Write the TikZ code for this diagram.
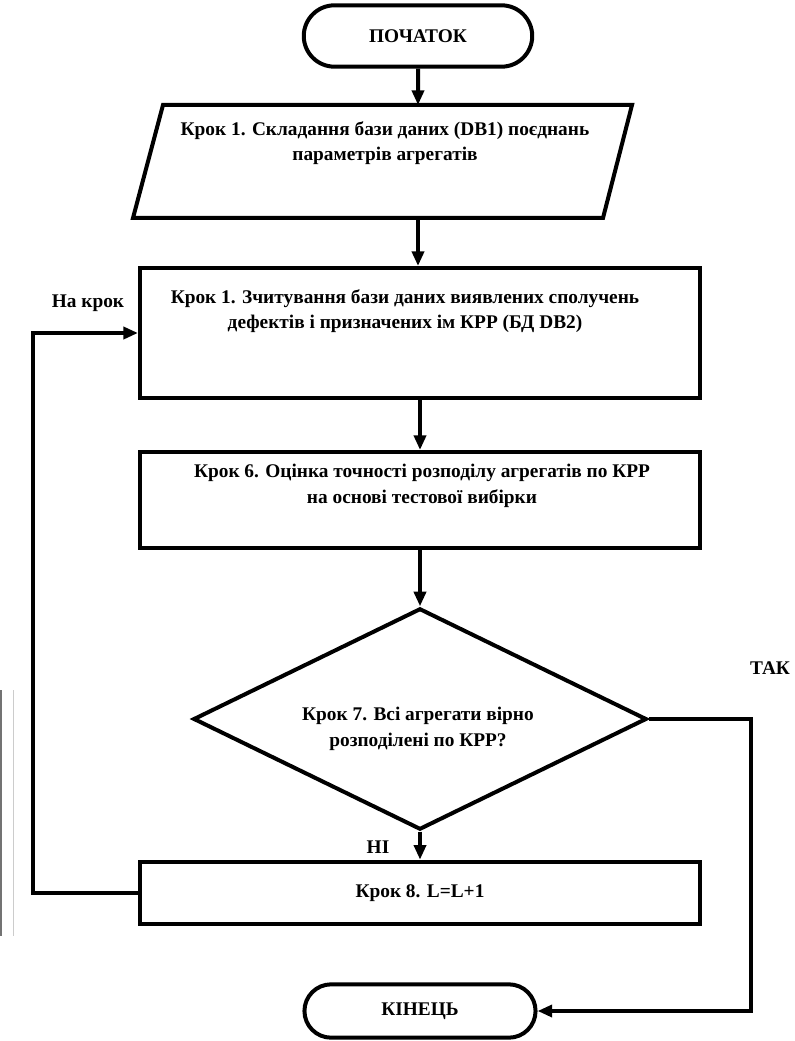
\documentclass[tikz,border=0pt]{standalone}
\usepackage{fontspec}
\setmainfont{Liberation Serif}
\usetikzlibrary{arrows.meta,shapes.geometric,shapes.misc}

\tikzset{
	line/.style={line width=3pt},
	flow/.style={line, -{Triangle[length=11pt,width=9pt]}},
	term/.style={rounded rectangle, draw, line width=3pt, minimum width=178pt, minimum height=46pt, font=\bfseries\fontsize{14.5}{17}\selectfont},
	stepbox/.style={rectangle, draw, line width=3pt, minimum width=420pt},
	txt/.style={align=center, inner sep=0pt, font=\bfseries\fontsize{14.5}{19}\selectfont},
	lbl/.style={inner sep=0pt, font=\bfseries\fontsize{14.5}{17}\selectfont},
}

\begin{document}
\begin{tikzpicture}[x=0.75pt,y=-0.75pt]
				\useasboundingbox (0,0) rectangle (795,1041);
				
				% start / end
				\node[term] (start) at (418,36) {ПОЧАТОК};
				\node[term, minimum width=180pt, minimum height=40pt] (finish) at (420,1011) {КІНЕЦЬ};
				
				% step 1: input parallelogram
				\draw[line] (163,105) -- (632,105) -- (603,218) -- (133,218) -- cycle;
				\coordinate (dbtop) at (418,105);
				\coordinate (dbbot) at (418,218);
				\node[txt] (dbtxt) at (385,143) {Крок 1. Складання бази даних (DB1) поєднань\\параметрів агрегатів};
				
				% steps
				\node[stepbox, minimum height=97.5pt] (read) at (420,333) {};
				\node[txt] (readtxt) at (405,311) {Крок 1. Зчитування бази даних виявлених сполучень\\дефектів і призначених ім КРР (БД DB2)};
				
				\node[stepbox, minimum height=72pt] (eval) at (420,500) {};
				\node[txt] (evaltxt) at (422,486) {Крок 6. Оцінка точності розподілу агрегатів по КРР\\на основі тестової вибірки};
				
				\node[diamond, draw, line, minimum width=340pt, minimum height=166pt] (check) at (420,719) {};
				\node[txt] (checktxt) at (418,729) {Крок 7. Всі агрегати вірно\\розподілені по КРР?};
				
				\node[stepbox, minimum height=47pt, txt] (incr) at (420,893) {Крок 8. L=L+1};
				
				% connectors
				\draw[flow] (start) -- (dbtop);
				\draw[flow] (dbbot) -- (dbbot |- read.north);
				\draw[flow] (read) -- (eval);
				\draw[flow] (eval) -- (check);
				\draw[flow] (check) -- (incr);
				\draw[flow] (incr.west) -- ++(-105,0) |- (read.west);
				\draw[flow] (check.east) -- ++(102,0) |- (finish.east);
				
				\node[lbl] (goback) at (88,303) {На крок};
				\node[lbl] (yes) at (770,668) {ТАК};
				\node[lbl] (no) at (378,847) {НІ};
				
				% faint edge lines
				\draw[black!55, line width=0.8pt] (1,690) -- (1,936);
				\draw[black!20, line width=0.5pt] (13,690) -- (13,936);
\end{tikzpicture}
\end{document}
